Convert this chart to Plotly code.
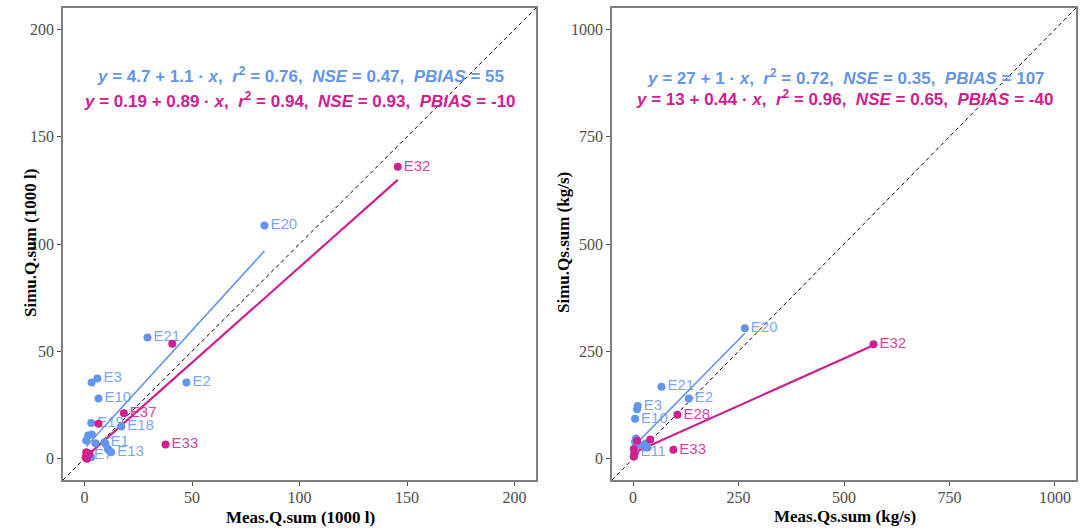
import plotly.graph_objects as go

BLUE = "#6495ED"
MAG = "#D02090"
BLUE_T = "rgba(100,149,237,0.85)"
MAG_T = "rgba(208,32,144,0.85)"

# ---------------- Left panel: Q (1000 l) ----------------
q_blue_x = [83.7, 29.3, 47.4, 6.0, 3.3, 6.5, 3.1, 17.1, 9.3, 12.4, 1.6, 3.1, 1.7, 3.4, 0.8, 5.1, 9.8, 10.9, 11.5]
q_blue_y = [108.6, 56.4, 35.4, 37.3, 35.4, 28.0, 16.6, 14.9, 7.6, 2.9, 1.4, 0.6, 10.7, 11.2, 8.4, 7.1, 6.8, 4.5, 3.6]
q_blue_lab = ["E20", "E21", "E2", "E3", "", "E10", "E19", "E18", "E1", "E13", "E7", "", "", "", "", "", "", "", ""]

q_mag_x = [145.7, 40.8, 18.3, 37.7, 6.5, 0.8, 1.6, 0.5, 2.3, 1.1]
q_mag_y = [136.0, 53.5, 21.1, 6.5, 16.2, 2.9, 1.4, 0.6, 2.2, -0.1]
q_mag_lab = ["E32", "", "E37", "E33", "", "", "", "", "", ""]

q_fit_blue = [4.7, 1.1]    # intercept, slope
q_fit_mag = [0.19, 0.89]
q_range = [-10, 210]
q_ticks = [0, 50, 100, 150, 200]

# ---------------- Right panel: Qs (kg/s) ----------------
qs_blue_x = [265, 67.3, 132, 11, 9.4, 4.7, 7, 4.7, 34.5, 14.8, 3.1, 30, 2]
qs_blue_y = [303.5, 167.5, 140, 122.6, 114.8, 92.7, 47, 39.3, 26, 31.4, 14.2, 35, 5]
qs_blue_lab = ["E20", "E21", "E2", "E3", "", "E10", "", "", "", "", "E11", "", ""]

qs_mag_x = [570, 105, 95.5, 40.6, 9.4, 1.6, 3.1, 1.6]
qs_mag_y = [266.5, 102, 20.5, 44.1, 41.7, 22, 10.1, 4.7]
qs_mag_lab = ["E32", "E28", "E33", "", "", "", "", ""]

qs_fit_blue = [27, 1.0]
qs_fit_mag = [13, 0.44]
qs_range = [-50, 1050]
qs_ticks = [0, 250, 500, 750, 1000]

NB = "\u00a0"


def eq_text(a, b, r2, nse, pbias):
    return (f"<b><i>y</i> = {a} + {b} · <i>x</i>,{NB}{NB}<i>r</i><sup>2</sup> = {r2},{NB}{NB}"
            f"<i>NSE</i> = {nse},{NB}{NB}<i>PBIAS</i> = {pbias}</b>")


fig = go.Figure()


def add_panel(xa, ya, rng, bx, by, blab, mx, my, mlab, fb, fm):
    # 1:1 dashed line
    fig.add_trace(go.Scatter(x=rng, y=rng, mode="lines", xaxis=xa, yaxis=ya,
                             line=dict(color="black", width=1, dash="4px,3px"),
                             showlegend=False, hoverinfo="skip"))
    # regression lines
    bxr = [min(bx), max(bx)]
    fig.add_trace(go.Scatter(x=bxr, y=[fb[0] + fb[1] * v for v in bxr], mode="lines",
                             xaxis=xa, yaxis=ya, line=dict(color=BLUE, width=1.6),
                             showlegend=False))
    mxr = [min(mx), max(mx)]
    fig.add_trace(go.Scatter(x=mxr, y=[fm[0] + fm[1] * v for v in mxr], mode="lines",
                             xaxis=xa, yaxis=ya, line=dict(color=MAG, width=2.2),
                             showlegend=False))
    # points
    fig.add_trace(go.Scatter(x=bx, y=by, text=blab, mode="markers+text", textposition="middle right",
                             xaxis=xa, yaxis=ya, marker=dict(color=BLUE, size=8),
                             textfont=dict(color=BLUE_T, size=15, family="Liberation Sans"),
                             showlegend=False))
    fig.add_trace(go.Scatter(x=mx, y=my, text=mlab, mode="markers+text", textposition="middle right",
                             xaxis=xa, yaxis=ya, marker=dict(color=MAG, size=8),
                             textfont=dict(color=MAG_T, size=15, family="Liberation Sans"),
                             showlegend=False))


add_panel("x", "y", q_range, q_blue_x, q_blue_y, q_blue_lab, q_mag_x, q_mag_y, q_mag_lab, q_fit_blue, q_fit_mag)
add_panel("x2", "y2", qs_range, qs_blue_x, qs_blue_y, qs_blue_lab, qs_mag_x, qs_mag_y, qs_mag_lab, qs_fit_blue, qs_fit_mag)

W, H = 1081, 530
ydom = [50 / H, 522 / H]
axis_common = dict(showgrid=False, zeroline=False, showline=True, linecolor="#7f7f7f", linewidth=1.5,
                   mirror=True, ticks="outside", ticklen=4, tickcolor="#555555", tickwidth=1,
                   tickfont=dict(family="Liberation Serif", size=16, color="#4D4D4D"))

fig.update_layout(
    width=W, height=H, margin=dict(l=0, r=0, t=0, b=0),
    paper_bgcolor="white", plot_bgcolor="white",
    xaxis=dict(domain=[63 / W, 536 / W], range=q_range, tickvals=q_ticks, anchor="y",
               ticklabelstandoff=-2, **axis_common),
    yaxis=dict(domain=ydom, range=q_range, tickvals=q_ticks, anchor="x", **axis_common),
    xaxis2=dict(domain=[612 / W, 1076 / W], range=qs_range, tickvals=qs_ticks, anchor="y2",
                ticklabelstandoff=-2, **axis_common),
    yaxis2=dict(domain=ydom, range=qs_range, tickvals=qs_ticks, anchor="x2", **axis_common),
)

eq_font = dict(family="Liberation Sans", size=17)
anns = [
    dict(x=300 / W, y=(H - 75) / H, text=eq_text(4.7, 1.1, 0.76, 0.47, 55), font=dict(color=BLUE, **eq_font)),
    dict(x=300 / W, y=(H - 100) / H, text=eq_text(0.19, 0.89, 0.94, 0.93, -10), font=dict(color=MAG, **eq_font)),
    dict(x=846 / W, y=(H - 77) / H, text=eq_text(27, 1, 0.72, 0.35, 107), font=dict(color=BLUE, **eq_font)),
    dict(x=844 / W, y=(H - 98) / H, text=eq_text(13, 0.44, 0.96, 0.65, -40), font=dict(color=MAG, **eq_font)),
]
title_font = dict(family="Liberation Serif", size=17, color="black")
anns += [
    dict(x=300 / W, y=(H - 517) / H, text="<b>Meas.Q.sum (1000 l)</b>", font=title_font),
    dict(x=845 / W, y=(H - 516) / H, text="<b>Meas.Qs.sum (kg/s)</b>", font=title_font),
    dict(x=30 / W, y=(H - 243) / H, text="<b>Simu.Q.sum (1000 l)</b>", textangle=-90, font=title_font),
    dict(x=563 / W, y=(H - 243) / H, text="<b>Simu.Qs.sum (kg/s)</b>", textangle=-90, font=title_font),
]
for a in anns:
    a.update(xref="paper", yref="paper", showarrow=False, xanchor="center", yanchor="middle")
    fig.add_annotation(**a)

fig.write_html("out.html")
